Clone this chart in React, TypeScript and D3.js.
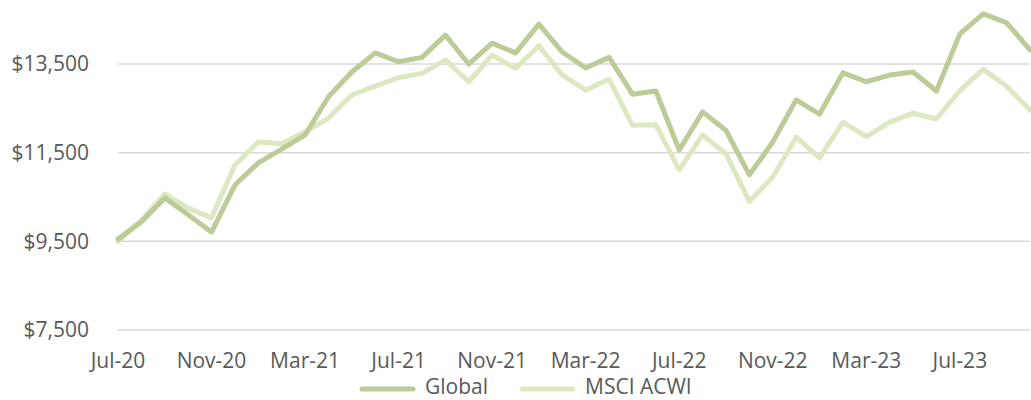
import React from "react";
import * as d3 from "d3";

const months: string[] = [
  "2020-07","2020-08","2020-09","2020-10","2020-11","2020-12",
  "2021-01","2021-02","2021-03","2021-04","2021-05","2021-06","2021-07","2021-08","2021-09","2021-10","2021-11","2021-12",
  "2022-01","2022-02","2022-03","2022-04","2022-05","2022-06","2022-07","2022-08","2022-09","2022-10","2022-11","2022-12",
  "2023-01","2023-02","2023-03","2023-04","2023-05","2023-06","2023-07","2023-08","2023-09","2023-10",
];

const globalValues: number[] = [
  9550, 9940, 10480, 10100, 9710, 10770, 11270, 11580, 11900, 12760,
  13320, 13750, 13550, 13650, 14150, 13500, 13970, 13750, 14400, 13770,
  13410, 13650, 12820, 12890, 11560, 12420, 12000, 11000, 11740, 12690,
  12370, 13300, 13100, 13250, 13320, 12890, 14180, 14630, 14430, 13820,
];

const msciValues: number[] = [
  9500, 9980, 10570, 10250, 10030, 11220, 11740, 11700, 11970, 12280,
  12800, 13000, 13190, 13290, 13590, 13100, 13700, 13400, 13910, 13250,
  12910, 13160, 12120, 12130, 11110, 11900, 11470, 10400, 10950, 11850,
  11380, 12190, 11860, 12190, 12390, 12260, 12900, 13380, 13000, 12460,
];

const yTicks: number[] = [7500, 9500, 11500, 13500];
const xTickLabels: string[] = ["Jul-20","Nov-20","Mar-21","Jul-21","Nov-21","Mar-22","Jul-22","Nov-22","Mar-23","Jul-23"];
const seriesNames: string[] = ["Global", "MSCI ACWI"];

const W = 1031;
const H = 400;
const left = 118;
const right = 1030;
const COLORS = ["#bccb97", "#dde8c3"];
const TEXT = "#595959";
const FONT = "'Open Sans', 'Noto Sans', sans-serif";
const FS = 21;

export default function App() {
  const x = d3.scalePoint<string>().domain(months).range([left, right]);
  const y = d3.scaleLinear().domain([7500, 13500]).range([330, 64]);
  const fmt = (v: number) => "$" + d3.format(",")(v);
  const line = d3
    .line<number>()
    .x((_, i) => x(months[i]) as number)
    .y((d) => y(d));
  const labelMonths = months.filter((_, i) => i % 4 === 0);
  const legendItems = [
    { name: seriesNames[0], color: COLORS[0], x0: 360, tx: 425 },
    { name: seriesNames[1], color: COLORS[1], x0: 520, tx: 585 },
  ];
  return (
    <svg width={W} height={H} style={{ position: "absolute", left: 0, top: 0 }} fontFamily={FONT}>
      <rect width={W} height={H} fill="#fff" />
      {yTicks.map((t) => (
        <g key={t}>
          <line x1={left} x2={right} y1={y(t)} y2={y(t)} stroke="#d9d9d9" strokeWidth={1.5} />
          <text x={89} y={y(t)} dy="0.35em" textAnchor="end" fontSize={FS} fill={TEXT}>
            {fmt(t)}
          </text>
        </g>
      ))}
      {labelMonths.map((m, i) => (
        <text key={m} x={x(m) as number} y={361} dy="0.35em" textAnchor="middle" fontSize={FS} fill={TEXT}>
          {xTickLabels[i]}
        </text>
      ))}
      <path d={line(msciValues) || ""} fill="none" stroke={COLORS[1]} strokeWidth={5} strokeLinejoin="round" strokeLinecap="round" />
      <path d={line(globalValues) || ""} fill="none" stroke={COLORS[0]} strokeWidth={5} strokeLinejoin="round" strokeLinecap="round" />
      {legendItems.map((it) => (
        <g key={it.name}>
          <line x1={it.x0 + 2} x2={it.x0 + 53} y1={389} y2={389} stroke={it.color} strokeWidth={5} strokeLinecap="round" />
          <text x={it.tx} y={387} dy="0.35em" fontSize={FS} fill={TEXT}>
            {it.name}
          </text>
        </g>
      ))}
    </svg>
  );
}
